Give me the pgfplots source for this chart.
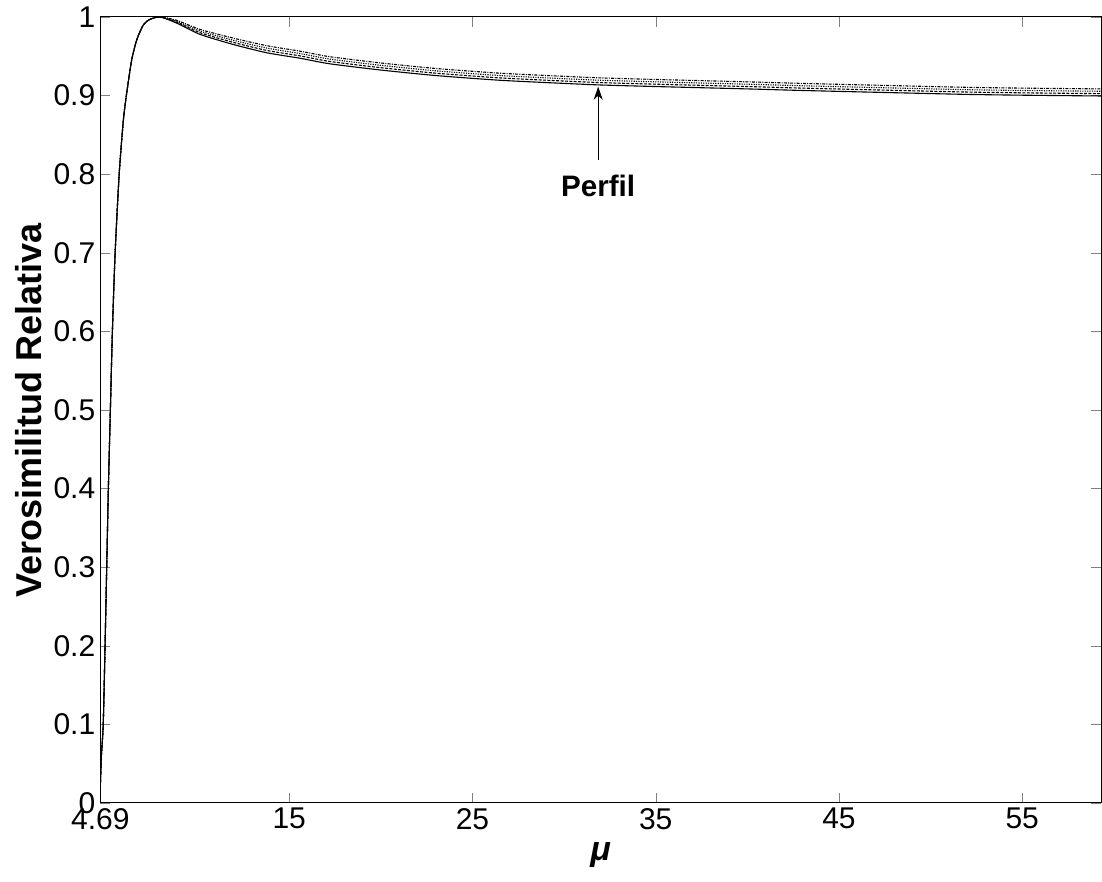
\documentclass[border=0pt]{standalone}
\usepackage{pgfplots}
\pgfplotsset{compat=1.18}
\usepackage{pgfplotstable}
\usepackage{fontspec}
\setmainfont{Liberation Sans}
\usetikzlibrary{arrows.meta}
\pgfplotstableread{
mu     a       b       c       d
4.69   0.020   0.020   0.020   0.020
4.75   0.060   0.060   0.060   0.060
4.85   0.100   0.100   0.100   0.100
4.95   0.200   0.200   0.200   0.200
5.04   0.300   0.300   0.300   0.300
5.13   0.400   0.400   0.400   0.400
5.24   0.500   0.500   0.500   0.500
5.35   0.600   0.600   0.600   0.600
5.50   0.700   0.700   0.700   0.700
5.72   0.800   0.800   0.800   0.800
5.95   0.869   0.869   0.869   0.869
6.13   0.903   0.903   0.903   0.903
6.40   0.945   0.945   0.945   0.945
6.68   0.971   0.971   0.971   0.971
7.04   0.990   0.990   0.990   0.990
7.40   0.997   0.997   0.997   0.997
7.95   1.000   1.000   1.000   1.000
8.86   0.9922  0.9934  0.9946  0.9958
10.13  0.9779  0.9800  0.9821  0.9842
11.95  0.9650  0.9677  0.9704  0.9731
13.77  0.9545  0.9575  0.9605  0.9635
15.59  0.9475  0.9505  0.9535  0.9565
17.2   0.9405  0.9435  0.9465  0.9495
20     0.9325  0.9355  0.9385  0.9415
23     0.9255  0.9285  0.9315  0.9345
26.5   0.9195  0.9225  0.9255  0.9285
30     0.9155  0.9185  0.9215  0.9245
32     0.9135  0.9165  0.9195  0.9225
35     0.9115  0.9145  0.9175  0.9205
40     0.9085  0.9115  0.9145  0.9175
43     0.9065  0.9095  0.9125  0.9155
48.3   0.9035  0.9065  0.9095  0.9125
52     0.9015  0.9045  0.9075  0.9105
55     0.9005  0.9035  0.9065  0.9095
59.3   0.8995  0.9025  0.9055  0.9085
}\prof
\begin{document}
\begin{tikzpicture}
\useasboundingbox (-50.15pt,-39.5pt) rectangle (500.85pt,401.5pt);
\begin{axis}[
  at={(0,0)}, anchor=south west,
  scale only axis, width=500.35pt, height=393pt,
  xmin=4.69, xmax=59.3, ymin=0, ymax=1,
  xtick={4.69,15,25,35,45,55},
  ytick={0,0.1,0.2,0.3,0.4,0.5,0.6,0.7,0.8,0.9,1},
  tick align=inside, major tick length=5pt,
  axis line style={line width=0.5pt},
  /pgf/number format/assume math mode=true,
  scaled x ticks=false, scaled y ticks=false,
  tick label style={font=\fontsize{15}{17}\selectfont},
  yticklabel style={xshift=1pt},
  xticklabel style={yshift=1pt},
  xlabel={\textbf{\textit{μ}}},
  xlabel style={font=\fontsize{17}{19}\selectfont, at={(axis description cs:0.5,0)}, anchor=center, yshift=-26pt},
  ylabel={\textbf{Verosimilitud Relativa}},
  ylabel style={font=\fontsize{18}{20}\selectfont, at={(axis description cs:-0.072,0.5)}, anchor=center},
]
\addplot[black, line width=0.55pt, smooth, tension=0.4] table[x=mu,y=a]{\prof};
\addplot[black, line width=0.55pt, smooth, tension=0.4, dash pattern=on 1.5pt off 0.7pt] table[x=mu,y=b]{\prof};
\addplot[black, line width=0.55pt, smooth, tension=0.4, dash pattern=on 0.6pt off 0.6pt] table[x=mu,y=c]{\prof};
\addplot[black, line width=0.55pt, smooth, tension=0.4, dash pattern=on 1.5pt off 0.6pt on 0.5pt off 0.6pt] table[x=mu,y=d]{\prof};
\draw[line width=0.4pt, -{Stealth[length=6.5pt,width=4.5pt,inset=2pt]}] (axis cs:31.86,0.818) -- (axis cs:31.86,0.9113);
\node[font=\bfseries\fontsize{14.8}{16}\selectfont] at (axis cs:31.86,0.785) {Perfil};
\end{axis}
\end{tikzpicture}
\end{document}
